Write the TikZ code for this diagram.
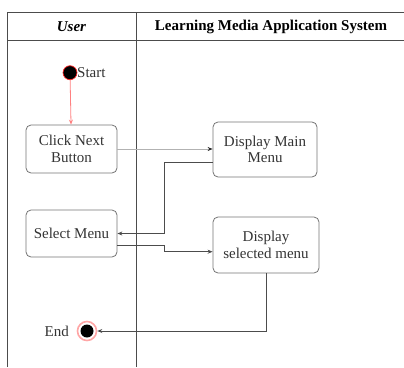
\documentclass[tikz,border=0pt]{standalone}
\usepackage{fontspec}
\setmainfont{Liberation Serif}
\usetikzlibrary{arrows.meta}

\begin{document}
\begin{tikzpicture}[x=1pt,y=-1pt,
  lane/.style={draw=black!70, line width=0.9pt},
  act/.style={draw=black!55, line width=0.8pt, rounded corners=5pt, align=center,
    text=black!80, inner sep=2pt, font=\fontsize{15}{16.5}\selectfont},
  flow/.style={draw=black!70, line width=0.8pt, -{Stealth[length=5pt,width=4pt]}},
  lightflow/.style={draw=black!30, line width=0.8pt, -{Stealth[length=5pt,width=4pt,color=black!85]}},
  lbl/.style={inner sep=0pt, text=black!80, font=\fontsize{15}{16.5}\selectfont},
  head/.style={inner sep=0pt, font=\bfseries\fontsize{15}{16.5}\selectfont}]
\useasboundingbox (0,0) rectangle (404,367);

% swimlane frame
\draw[lane] (7,367) -- (7,12) -- (404,12);
\draw[lane] (7,40) -- (404,40);
\draw[lane] (136,12) -- (136,367);

% lane headers
\node[head] (huser) at (71.5,27) {\itshape User};
\node[head] (hsys) at (271,27) {Learning Media Application System};

% initial node
\node[circle, fill=black, draw=red!85, line width=0.7pt, minimum size=14pt, inner sep=0pt] (start) at (70,72.7) {};
\node[lbl, anchor=west] (starttxt) at (77,72.7) {Start};

% activities
\node[act, minimum width=91pt, minimum height=48pt] (click) at (71.5,149) {Click Next\\Button};
\node[act, minimum width=104pt, minimum height=55pt] (main) at (265,149.5) {Display Main\\Menu};
\node[act, minimum width=91pt, minimum height=47pt] (select) at (71.5,233.5) {Select Menu};
\node[act, minimum width=106pt, minimum height=56pt] (shown) at (266,245) {Display\\selected menu};

% final node
\node[circle, draw=red!35, line width=1.6pt, minimum size=19pt, inner sep=0pt] (endring) at (87,331) {};
\node[circle, fill=black, minimum size=13pt, inner sep=0pt] (end) at (87,331) {};
\node[lbl, anchor=east] (endtxt) at (69,331) {End};

% junction column for the elbow connectors
\coordinate (j) at (164,0);

% transitions
\draw[red!50, line width=0.8pt, -{Stealth[length=5pt,width=4pt]}] (start) -- (click);
\draw[lightflow] (click.east) -- (click.east -| main.west);
\draw[flow] ([yshift=-13pt]main.west) -| (j |- select.east) -- (select.east);
\draw[flow] ([yshift=-12pt]select.east) -| ([yshift=-6.7pt]shown.west -| j) -- ([yshift=-6.7pt]shown.west);
\draw[flow] ([xshift=0.7pt]shown.south) |- (endring.east);
\end{tikzpicture}
\end{document}
